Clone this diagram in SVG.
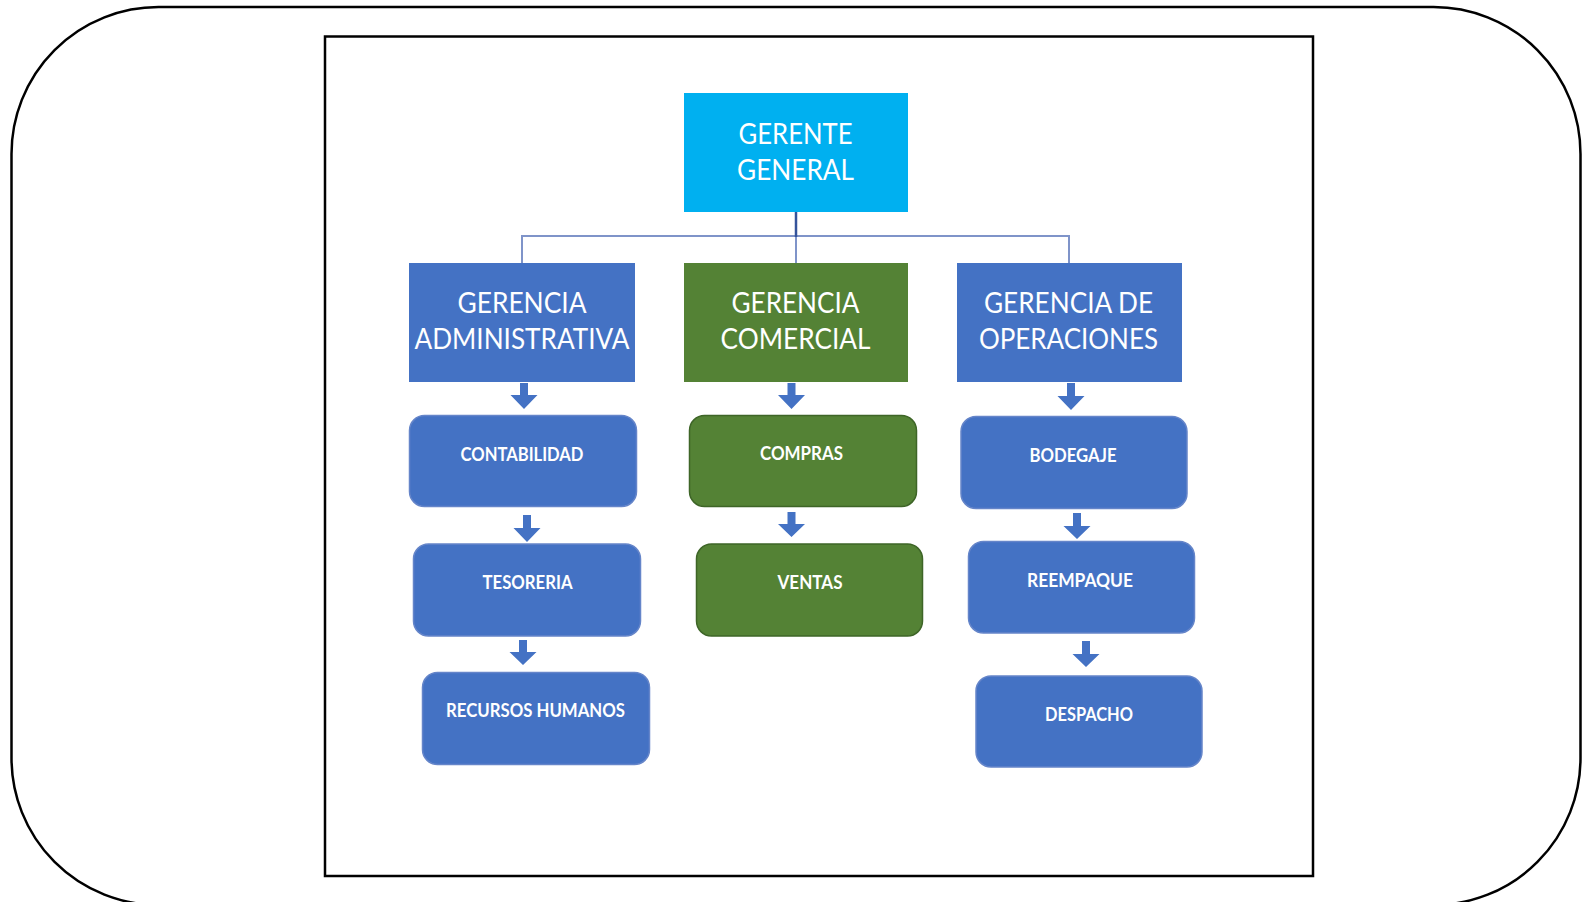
<svg xmlns="http://www.w3.org/2000/svg" width="1589" height="902" viewBox="0 0 1589 902">
<style>
.big{font-family:Lato,"Open Sans","Liberation Sans",sans-serif;font-size:29.5px;fill:#fff;text-anchor:middle}
.small{font-family:Lato,"Open Sans","Liberation Sans",sans-serif;font-size:18.5px;font-weight:bold;fill:#fff;text-anchor:middle}
.blue{fill:#4472C4}
.green{fill:#548235}
.rb{fill:#4472C4;stroke:#6585c9;stroke-width:1.5}
.rg{fill:#548235;stroke:#3e6527;stroke-width:1.5}
.arr{fill:#4472C4}
</style>
<rect width="1589" height="902" fill="#fff"/>
<rect x="11.5" y="7" width="1569" height="898" rx="147" ry="147" fill="none" stroke="#000" stroke-width="2.5"/>
<rect x="325" y="36.5" width="988" height="839.5" fill="none" stroke="#000" stroke-width="2.5"/>
<g id="connectors">
<polyline points="522,263 522,236 1069,236 1069,263" fill="none" stroke="#7f94c9" stroke-width="2"/>
<line x1="796" y1="236" x2="796" y2="263" stroke="#7f94c9" stroke-width="2"/>
<line x1="796" y1="212" x2="796" y2="237" stroke="#34539b" stroke-width="2.5"/>
<path class="arr" d="M520,383H528V395H537.5L524,409L510.5,395H520Z"/>
<path class="arr" d="M523,515H531V528H540.5L527,542L513.5,528H523Z"/>
<path class="arr" d="M519,640H527V652H536.5L523,665L509.5,652H519Z"/>
<path class="arr" d="M787.5,383H795.5V395H805L791.5,409L778,395H787.5Z"/>
<path class="arr" d="M787.5,512H795.5V524H805L791.5,537L778,524H787.5Z"/>
<path class="arr" d="M1067,383H1075V396H1084.5L1071,410L1057.5,396H1067Z"/>
<path class="arr" d="M1073,513H1081V526H1090.5L1077,539L1063.5,526H1073Z"/>
<path class="arr" d="M1082,641H1090V654H1099.5L1086,667L1072.5,654H1082Z"/>
</g>
<g id="gerente-general">
<rect x="684" y="93" width="224" height="119" fill="#00B0F0"/>
<text class="big" x="795.5" y="143.5" textLength="114" lengthAdjust="spacingAndGlyphs">GERENTE</text>
<text class="big" x="795.5" y="180" textLength="117" lengthAdjust="spacingAndGlyphs">GENERAL</text>
</g>
<g id="gerencia-administrativa">
<rect class="blue" x="409" y="263" width="226" height="119"/>
<text class="big" x="522" y="313.3" textLength="129" lengthAdjust="spacingAndGlyphs">GERENCIA</text>
<text class="big" x="522" y="349.3" textLength="215" lengthAdjust="spacingAndGlyphs">ADMINISTRATIVA</text>
</g>
<g id="gerencia-comercial">
<rect class="green" x="684" y="263" width="224" height="119"/>
<text class="big" x="795.5" y="313.3" textLength="128" lengthAdjust="spacingAndGlyphs">GERENCIA</text>
<text class="big" x="795.5" y="349.3" textLength="150" lengthAdjust="spacingAndGlyphs">COMERCIAL</text>
</g>
<g id="gerencia-operaciones">
<rect class="blue" x="957" y="263" width="225" height="119"/>
<text class="big" x="1068.5" y="313.3" textLength="169" lengthAdjust="spacingAndGlyphs">GERENCIA DE</text>
<text class="big" x="1068.5" y="349.3" textLength="179" lengthAdjust="spacingAndGlyphs">OPERACIONES</text>
</g>
<g id="contabilidad">
<rect class="rb" x="409.5" y="415.5" width="227" height="91" rx="15"/>
<text class="small" x="522" y="460.7" textLength="123" lengthAdjust="spacingAndGlyphs">CONTABILIDAD</text>
</g>
<g id="tesoreria">
<rect class="rb" x="413.5" y="544" width="227" height="92" rx="15"/>
<text class="small" x="527.5" y="589" textLength="90" lengthAdjust="spacingAndGlyphs">TESORERIA</text>
</g>
<g id="recursos-humanos">
<rect class="rb" x="422.5" y="672.5" width="227" height="92" rx="15"/>
<text class="small" x="535.5" y="717.3" textLength="179" lengthAdjust="spacingAndGlyphs">RECURSOS HUMANOS</text>
</g>
<g id="compras">
<rect class="rg" x="689.5" y="415.5" width="227" height="91" rx="15"/>
<text class="small" x="801.5" y="460" textLength="83" lengthAdjust="spacingAndGlyphs">COMPRAS</text>
</g>
<g id="ventas">
<rect class="rg" x="696.5" y="544" width="226" height="92" rx="15"/>
<text class="small" x="810" y="588.5" textLength="65" lengthAdjust="spacingAndGlyphs">VENTAS</text>
</g>
<g id="bodegaje">
<rect class="rb" x="961" y="416.5" width="226" height="92" rx="15"/>
<text class="small" x="1073" y="462" textLength="87" lengthAdjust="spacingAndGlyphs">BODEGAJE</text>
</g>
<g id="reempaque">
<rect class="rb" x="968.5" y="541.5" width="226" height="91.5" rx="15"/>
<text class="small" x="1080" y="586.5" textLength="106" lengthAdjust="spacingAndGlyphs">REEMPAQUE</text>
</g>
<g id="despacho">
<rect class="rb" x="976" y="676" width="226" height="91" rx="15"/>
<text class="small" x="1089" y="720.7" textLength="88" lengthAdjust="spacingAndGlyphs">DESPACHO</text>
</g>
</svg>
